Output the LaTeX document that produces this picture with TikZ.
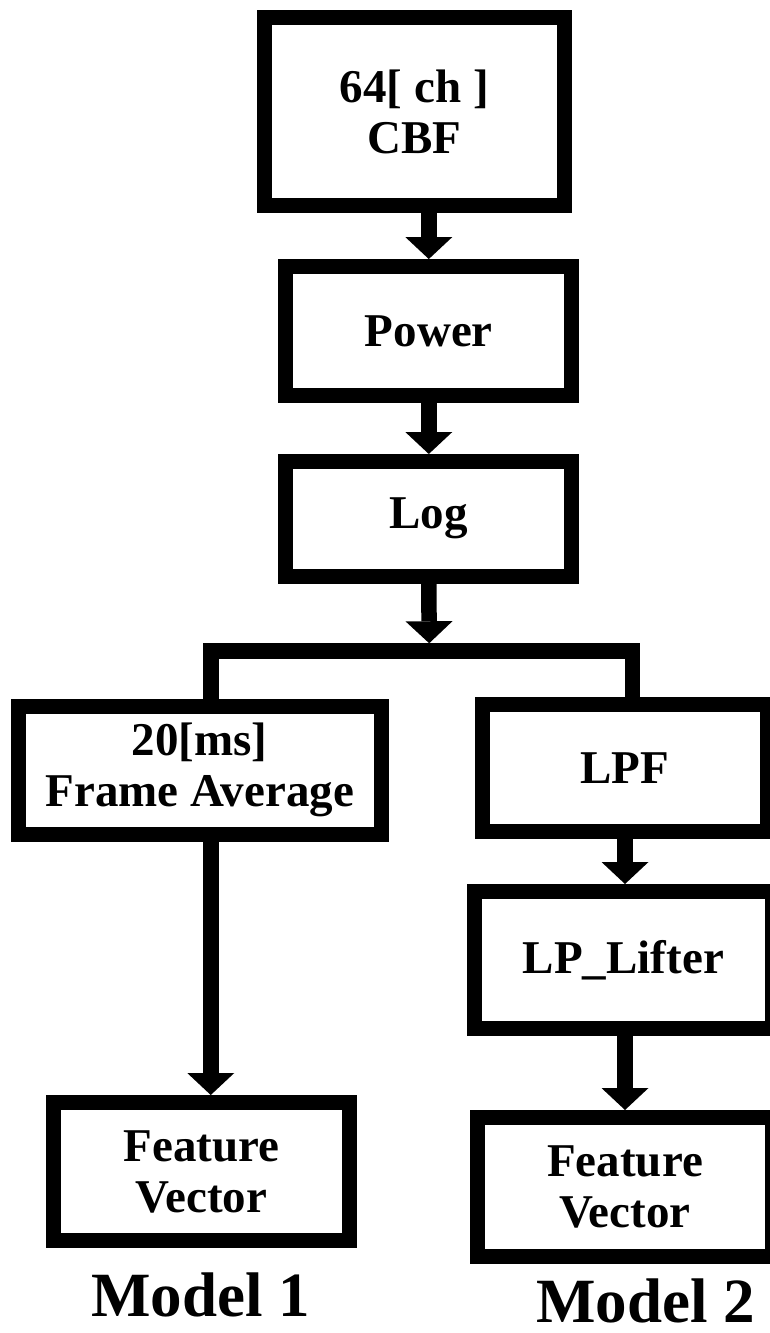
\documentclass[tikz,border=0pt]{standalone}
\usepackage{fontspec}
\setmainfont{Liberation Serif}
\usetikzlibrary{arrows.meta,calc}
\begin{document}
\begin{tikzpicture}[x=1pt,y=-1pt,
  box/.style={draw, line width=15pt, inner sep=0pt, align=center,
    font=\fontsize{47}{51}\selectfont\bfseries},
  shaft/.style={line width=15.5pt, -{Triangle[width=47pt,length=22pt,line width=0pt]}},
  splitbar/.style={line width=15.5pt, line join=miter},
  model/.style={anchor=base, inner sep=0pt, font=\fontsize{63}{70}\selectfont\bfseries}]
\useasboundingbox[fill=white] (0,0) rectangle (770,1333);

% boxes
\node[box, minimum width=300.5pt, minimum height=188pt]   (cbf)   at (414.25,111.5) {64[ ch ]\\CBF};
\node[box, minimum width=286pt,   minimum height=128.7pt] (power) at (428.8,330.9)  {Power};
\node[box, minimum width=286pt,   minimum height=114.5pt] (log)   at (428.8,518.75) {Log};
\node[box, minimum width=362.5pt, minimum height=128.5pt] (fa)    at (199.75,770.25) {20[ms]\\Frame Average};
\node[box, minimum width=285pt,   minimum height=127.8pt] (lpf)   at (625,767.9)    {LPF};
\node[box, minimum width=298.3pt, minimum height=136.7pt] (lpl)   at (623.35,959.85) {LP\_Lifter};
\node[box, minimum width=295.7pt, minimum height=138.3pt] (fv1)   at (201.35,1171.65) {Feature\\Vector};
\node[box, minimum width=295pt,   minimum height=138.5pt] (fv2)   at (625,1186.75)  {Feature\\Vector};

% labels
\node[model] (m1) at (200.8,1316) {Model 1};
\node[model] (m2) at (645.8,1322) {Model 2};

% split
\coordinate (split) at (429.2,651);
\coordinate (faIn) at ([xshift=11pt]fa.north);
\coordinate (lpfIn) at ([xshift=7.4pt]lpf.north);
\draw[splitbar] (faIn) |- (split) -| (lpfIn);

% connectors
\draw[shaft] (cbf.south -| power.north) -- (power.north);
\draw[shaft] (power.south) -- (log.north);
\draw[shaft] (log.south) -- ([yshift=7.75pt]split);
\coordinate (faOut) at ([xshift=11pt]fa.south);
\draw[shaft] (faOut) -- (faOut |- fv1.north);
\draw[shaft] (lpf.south) -- (lpf.south |- lpl.north);
\draw[shaft] (lpl.south -| lpf.south) -- (lpf.south |- fv2.north);
\end{tikzpicture}
\end{document}
